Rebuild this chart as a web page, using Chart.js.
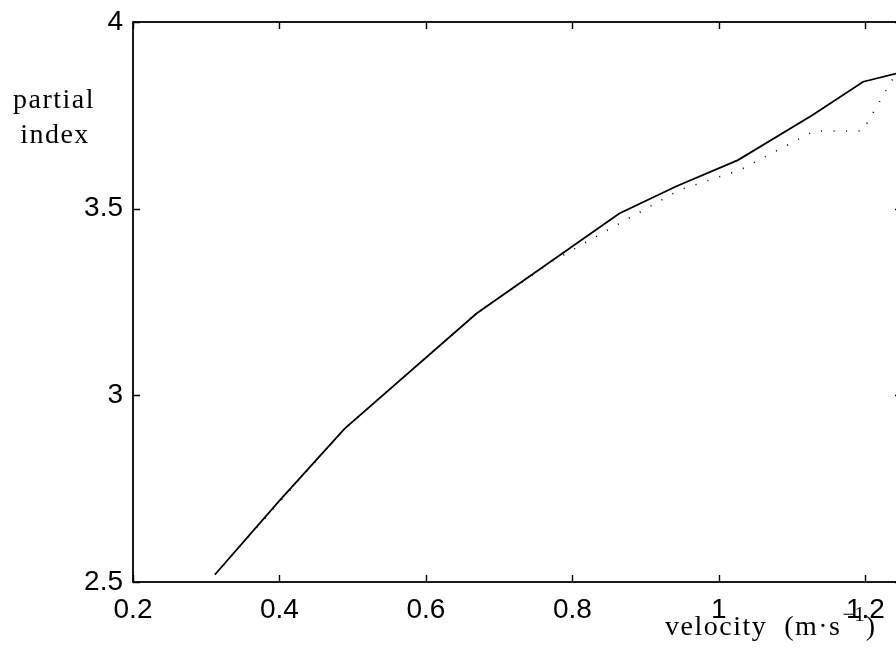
<!DOCTYPE html>
<html>
<head>
<meta charset="utf-8">
<script src="https://cdn.jsdelivr.net/npm/chart.js@4/dist/chart.umd.min.js"></script>
<style>
	html, body { margin: 0; padding: 0; background: #fff; overflow: hidden; }
	#chart { display: block; }
</style>
</head>
<body>
<canvas id="chart" width="912" height="648"></canvas>
<script>
// velocity (m/s) vs partial index
const solidX = [0.312, 0.40, 0.489, 0.669, 0.864, 0.942, 1.026, 1.128, 1.197, 1.25];
const solidY = [2.520, 2.718, 2.911, 3.219, 3.487, 3.560, 3.630, 3.751, 3.840, 3.866];

const dottedX = [0.312, 0.489, 0.669, 0.773, 0.946, 1.028, 1.130, 1.196, 1.25];
const dottedY = [2.520, 2.911, 3.219, 3.360, 3.550, 3.603, 3.708, 3.708, 3.89];

const xTicks = [0.2, 0.4, 0.6, 0.8, 1.0, 1.2];
const xTickLabels = ['0.2', '0.4', '0.6', '0.8', '1', '1.2'];
const yTicks = [2.5, 3.0, 3.5, 4.0];
const yTickLabels = ['2.5', '3', '3.5', '4'];

const yTitle = ['partial', 'index'];
const xTitle = 'velocity  (m\u00b7s';
const xTitleSup = '\u22121';

const TICK_LEN = 7;

function toPoints(xs, ys) {
	return xs.map((x, i) => ({ x: x, y: ys[i] }));
}

// box around the plot, inward ticks, and the two axis labels (not rotated)
const framePlugin = {
	id: 'frame',
	afterDraw(chart) {
		const ctx = chart.ctx;
		const area = chart.chartArea;
		const xs = chart.scales.x;
		const ys = chart.scales.y;
		ctx.save();
		ctx.strokeStyle = '#000';
		ctx.lineWidth = 1.8;
		ctx.strokeRect(area.left, area.top, area.right - area.left, area.bottom - area.top);

		ctx.lineWidth = 1.4;
		ctx.beginPath();
		xTicks.forEach(v => {
			const px = Math.round(xs.getPixelForValue(v)) + 0.5;
			ctx.moveTo(px, area.bottom);
			ctx.lineTo(px, area.bottom - TICK_LEN);
			ctx.moveTo(px, area.top);
			ctx.lineTo(px, area.top + TICK_LEN);
		});
		yTicks.forEach(v => {
			const py = Math.round(ys.getPixelForValue(v)) + 0.5;
			ctx.moveTo(area.left, py);
			ctx.lineTo(area.left + TICK_LEN, py);
			ctx.moveTo(area.right, py);
			ctx.lineTo(area.right - TICK_LEN, py);
		});
		ctx.stroke();

		ctx.fillStyle = '#000';
		ctx.font = '28px "Liberation Serif"';
		ctx.letterSpacing = '1.5px';
		ctx.textAlign = 'center';
		ctx.textBaseline = 'alphabetic';
		ctx.fillText(yTitle[0], 54, 108);
		ctx.fillText(yTitle[1], 55, 143);

		// x label, with the -1 raised
		ctx.textAlign = 'left';
		let x0 = 665;
		const base = 635;
		ctx.fillText(xTitle, x0, base);
		x0 += ctx.measureText(xTitle).width;
		ctx.font = '21px "Liberation Serif"';
		ctx.letterSpacing = '0px';
		ctx.fillText(xTitleSup, x0 + 1, base - 14);
		x0 += ctx.measureText(xTitleSup).width + 2;
		ctx.font = '28px "Liberation Serif"';
		ctx.fillText(')', x0, base);
		ctx.restore();
	}
};

const ctx = document.getElementById('chart').getContext('2d');
const chart = new Chart(ctx, {
	type: 'line',
	data: {
		datasets: [
			{
				label: 'solid',
				data: toPoints(solidX, solidY),
				borderColor: '#000',
				borderWidth: 1.8,
				pointRadius: 0,
				tension: 0,
				fill: false
			},
			{
				label: 'dotted',
				data: toPoints(dottedX, dottedY),
				borderColor: '#000',
				borderWidth: 1.6,
				borderDash: [1, 11.5],
				pointRadius: 0,
				tension: 0,
				fill: false
			}
		]
	},
	options: {
		responsive: false,
		animation: false,
		devicePixelRatio: 1,
		layout: {
			padding: { top: 22, right: 10, left: 0, bottom: 0 }
		},
		plugins: {
			legend: { display: false },
			tooltip: { enabled: false }
		},
		scales: {
			x: {
				type: 'linear',
				min: 0.2,
				max: 1.25,
				afterBuildTicks: scale => {
					scale.ticks = xTicks.map(v => ({ value: v }));
				},
				afterFit: scale => {
					scale.height = 66;
					scale.paddingLeft = 0;
					scale.paddingRight = 0;
				},
				grid: { display: false, drawTicks: false },
				border: { display: false },
				ticks: {
					color: '#000',
					padding: 11,
					maxRotation: 0,
					font: { family: '"Liberation Sans", Arial, sans-serif', size: 28 },
					callback: (v, i) => xTickLabels[i]
				}
			},
			y: {
				type: 'linear',
				min: 2.5,
				max: 4,
				afterBuildTicks: scale => {
					scale.ticks = yTicks.map(v => ({ value: v }));
				},
				afterFit: scale => {
					scale.width = 133;
					scale.paddingTop = 0;
					scale.paddingBottom = 0;
				},
				grid: { display: false, drawTicks: false },
				border: { display: false },
				ticks: {
					color: '#000',
					padding: 10,
					font: { family: '"Liberation Sans", Arial, sans-serif', size: 28 },
					callback: (v, i) => yTickLabels[i]
				}
			}
		}
	},
	plugins: [framePlugin]
});
</script>
</body>
</html>
